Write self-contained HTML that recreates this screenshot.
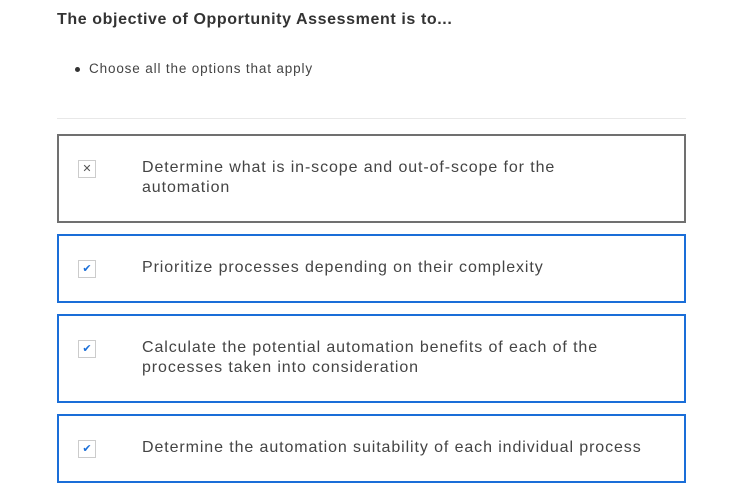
<!DOCTYPE html>
<html><head><meta charset="utf-8"><style>
body{margin:0;width:729px;height:501px;background:#fff;font-family:"Liberation Sans",sans-serif;color:#333;position:relative;overflow:hidden}
.t{position:absolute;left:57px;top:11px;font-size:16px;font-weight:bold;color:#333;letter-spacing:0.6px}
.b{position:absolute;left:89px;top:61px;font-size:13.5px;color:#444;letter-spacing:0.85px}
.dot{position:absolute;left:75px;top:67px;width:5px;height:5px;border-radius:50%;background:#333}
.hr{position:absolute;left:57px;top:118px;width:629px;height:1px;background:#e8e8e8}
.opt{position:absolute;left:57px;box-sizing:border-box;border:2px solid #1a6ed8;width:629px}
.opt.x{border-color:#707070}
.cb{position:absolute;left:19px;width:18px;height:18px;border:1px solid #ccc;box-sizing:border-box;font-size:11px;line-height:16px;text-align:center;color:#1a6ed8}
.opt.x .cb{color:#555}
.tx{position:absolute;left:83px;font-size:16px;line-height:20px;color:#444;width:470px;letter-spacing:0.9px}
</style></head><body>
<div class="t">The objective of Opportunity Assessment is to...</div>
<div class="dot"></div>
<div class="b">Choose all the options that apply</div>
<div class="hr"></div>
<div class="opt x" style="top:134px;height:89px"><div class="cb" style="top:24px">✕</div><div class="tx" style="top:22px">Determine what is in-scope and out-of-scope for the automation</div></div>
<div class="opt" style="top:234px;height:69px"><div class="cb" style="top:24px">✔</div><div class="tx" style="top:22px;white-space:nowrap">Prioritize processes depending on their complexity</div></div>
<div class="opt" style="top:314px;height:89px"><div class="cb" style="top:24px">✔</div><div class="tx" style="top:22px">Calculate the potential automation benefits of each of the processes taken into consideration</div></div>
<div class="opt" style="top:414px;height:69px"><div class="cb" style="top:24px">✔</div><div class="tx" style="top:22px;white-space:nowrap;width:auto">Determine the automation suitability of each individual process</div></div>
</body></html>
